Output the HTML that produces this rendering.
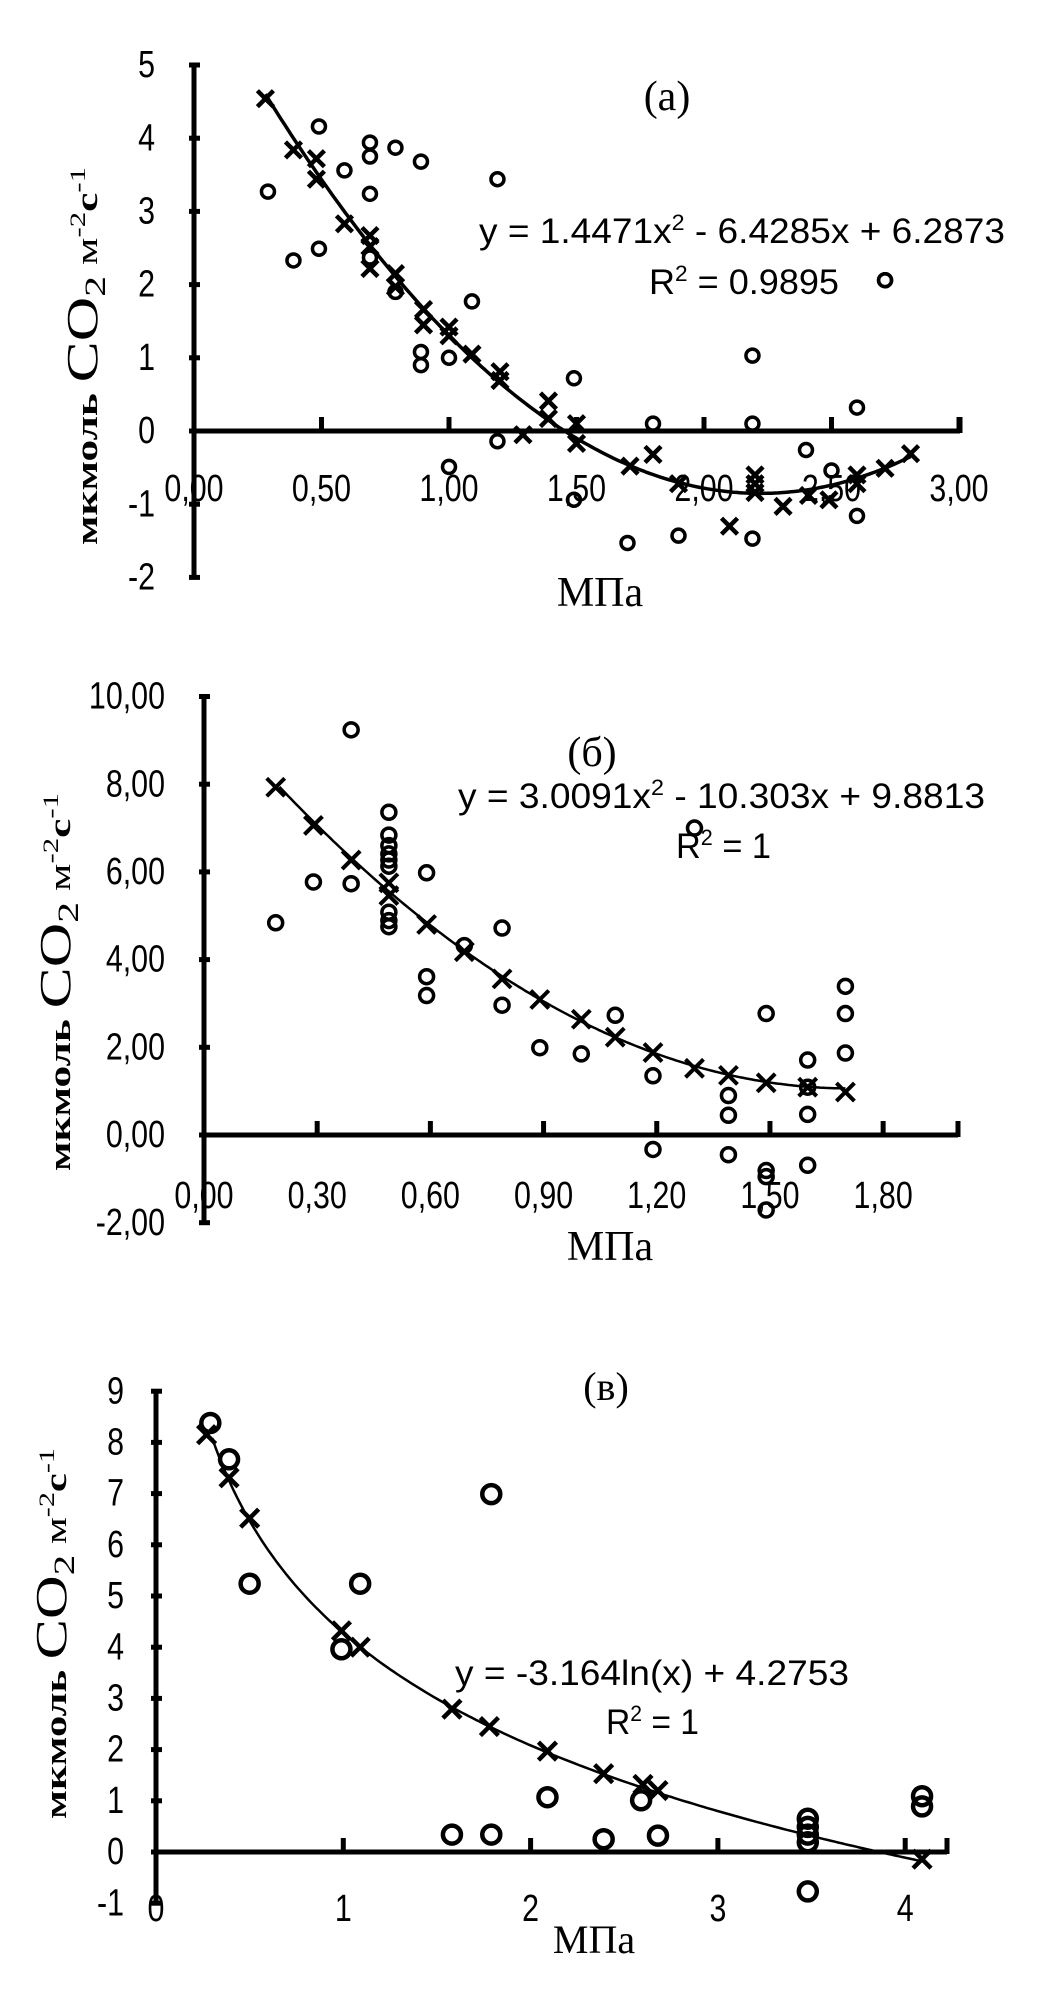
<!DOCTYPE html>
<html><head><meta charset="utf-8"><style>
html,body{margin:0;padding:0;background:#fff;}
svg{display:block}
.t{font-family:"Liberation Sans",sans-serif;fill:#000}
.s{font-family:"Liberation Serif",serif;fill:#000}
</style></head><body>
<svg id="g" width="1060" height="1999" viewBox="0 0 1060 1999" xmlns="http://www.w3.org/2000/svg">
<text class="s" x="667" y="110" font-size="42" text-anchor="middle">(a)</text>
<text class="t" x="479" y="243" font-size="35" textLength="526" lengthAdjust="spacingAndGlyphs">y = 1.4471x<tspan dy="-13" font-size="22">2</tspan><tspan dy="13"> - 6.4285x + 6.2873</tspan></text>
<text class="t" x="649" y="294" font-size="35" textLength="190" lengthAdjust="spacingAndGlyphs">R<tspan dy="-13" font-size="22">2</tspan><tspan dy="13"> = 0.9895</tspan></text>
<text class="s" x="600" y="606" font-size="42" text-anchor="middle">МПа</text>
<text class="s" transform="translate(97,545) rotate(-90)" font-size="31" font-weight="bold" textLength="378" lengthAdjust="spacingAndGlyphs">мкмоль <tspan font-size="44" font-weight="normal">CO</tspan><tspan font-size="30" font-weight="normal" dy="8">2</tspan><tspan dy="-8" font-weight="normal"> м</tspan><tspan dy="-12" font-size="22" font-weight="normal">-2</tspan><tspan dy="12">с</tspan><tspan dy="-12" font-size="22" font-weight="normal">-1</tspan></text>
<text class="s" x="592" y="766" font-size="42" text-anchor="middle">(б)</text>
<text class="t" x="458" y="808" font-size="35" textLength="527" lengthAdjust="spacingAndGlyphs">y = 3.0091x<tspan dy="-13" font-size="22">2</tspan><tspan dy="13"> - 10.303x + 9.8813</tspan></text>
<text class="t" x="676" y="858" font-size="35" textLength="95" lengthAdjust="spacingAndGlyphs">R<tspan dy="-13" font-size="22">2</tspan><tspan dy="13"> = 1</tspan></text>
<text class="s" x="610" y="1260" font-size="42" text-anchor="middle">МПа</text>
<text class="s" transform="translate(70,1171) rotate(-90)" font-size="31" font-weight="bold" textLength="378" lengthAdjust="spacingAndGlyphs">мкмоль <tspan font-size="44" font-weight="normal">CO</tspan><tspan font-size="30" font-weight="normal" dy="8">2</tspan><tspan dy="-8" font-weight="normal"> м</tspan><tspan dy="-12" font-size="22" font-weight="normal">-2</tspan><tspan dy="12">с</tspan><tspan dy="-12" font-size="22" font-weight="normal">-1</tspan></text>
<text class="s" x="606" y="1400" font-size="40" text-anchor="middle">(в)</text>
<text class="t" x="455" y="1685" font-size="35" textLength="394" lengthAdjust="spacingAndGlyphs">y = -3.164ln(x) + 4.2753</text>
<text class="t" x="606" y="1734" font-size="35" textLength="93" lengthAdjust="spacingAndGlyphs">R<tspan dy="-13" font-size="22">2</tspan><tspan dy="13"> = 1</tspan></text>
<text class="s" x="594" y="1953" font-size="40" text-anchor="middle">МПа</text>
<text class="s" transform="translate(66,1819) rotate(-90)" font-size="31" font-weight="bold" textLength="371" lengthAdjust="spacingAndGlyphs">мкмоль <tspan font-size="44" font-weight="normal">CO</tspan><tspan font-size="30" font-weight="normal" dy="8">2</tspan><tspan dy="-8" font-weight="normal"> м</tspan><tspan dy="-12" font-size="22" font-weight="normal">-2</tspan><tspan dy="12">с</tspan><tspan dy="-12" font-size="22" font-weight="normal">-1</tspan></text>
</svg>
<script>
var S=document.getElementById('g'),NS='http://www.w3.org/2000/svg';
function el(n,a){var e=document.createElementNS(NS,n);for(var k in a)e.setAttribute(k,a[k]);S.appendChild(e);return e;}
function txt(x,y,s,anc,fs){var e=el('text',{x:0,y:0,transform:'translate('+x+','+y+') scale(0.8,1)','font-size':fs||38,'text-anchor':anc,'class':'t','dominant-baseline':'central'});e.textContent=s;}
function chart(c){
 var X=function(u){return c.x0+(u-c.u0)*c.kx},Y=function(v){return c.y0-v*c.ky};
 var d='';for(var i=0;i<=200;i++){var u=c.c0+(c.c1-c.c0)*i/200;d+=(i?'L':'M')+X(u).toFixed(1)+' '+Y(c.f(u)).toFixed(1);}
 el('path',{d:d,fill:'none',stroke:'#000','stroke-width':c.cw});
 el('line',{x1:c.x0,y1:Y(c.ymax),x2:c.x0,y2:Y(c.ymin),stroke:'#000','stroke-width':c.aw});
 el('line',{x1:c.x0,y1:c.y0,x2:c.xend,y2:c.y0,stroke:'#000','stroke-width':c.aw});
 c.yt.forEach(function(v){el('line',{x1:c.x0-5,y1:Y(v),x2:c.x0+6,y2:Y(v),stroke:'#000','stroke-width':c.aw});txt(c.ylx,Y(v),c.yf(v),'end',c.fs);});
 c.xt.forEach(function(u){el('line',{x1:X(u),y1:c.y0-14,x2:X(u),y2:c.y0+2,stroke:'#000','stroke-width':c.aw});txt(X(u),c.xly,c.xf(u),'middle',c.fs);});
 el('line',{x1:c.xend,y1:c.y0-14,x2:c.xend,y2:c.y0+2,stroke:'#000','stroke-width':c.aw});
 c.circ.forEach(function(p){el('circle',{cx:X(p[0]),cy:Y(p[1]),r:c.r,fill:'none',stroke:'#000','stroke-width':c.sw});});
 c.cross.forEach(function(p){var x=X(p[0]),y=Y(p[1]),h=c.xs;el('path',{d:'M'+(x-h)+' '+(y-h)+'L'+(x+h)+' '+(y+h)+'M'+(x+h)+' '+(y-h)+'L'+(x-h)+' '+(y+h),stroke:'#000','stroke-width':c.xw,fill:'none'});});
}
chart({x0:194,u0:0,kx:255,y0:431,ky:73.2,ymax:5,ymin:-2,xend:960,aw:5,cw:3.5,r:6.5,sw:3.5,xs:8,xw:4.5,fs:38,ylx:155,xly:489,
 yt:[5,4,3,2,1,0,-1,-2],yf:function(v){return ''+v},xt:[0,0.5,1,1.5,2,2.5,3],xf:function(u){return u.toFixed(2).replace('.',',')},
 c0:0.28,c1:2.81,f:function(x){return 1.4471*x*x-6.4285*x+6.2873},
 cross:[[0.28,4.54],[0.39,3.84],[0.48,3.72],[0.48,3.44],[0.59,2.83],[0.69,2.67],[0.69,2.52],[0.69,2.22],[0.79,2.15],[0.79,1.97],[0.9,1.66],[0.9,1.45],[1,1.42],[1,1.3],[1.09,1.05],[1.2,0.81],[1.2,0.69],[1.29,-0.05],[1.39,0.41],[1.39,0.17],[1.5,0.1],[1.5,-0.17],[1.71,-0.48],[1.8,-0.32],[1.9,-0.72],[2.1,-1.3],[2.2,-0.6],[2.2,-0.72],[2.2,-0.84],[2.31,-1.03],[2.41,-0.88],[2.49,-0.94],[2.6,-0.6],[2.6,-0.72],[2.71,-0.51],[2.81,-0.31]],
 circ:[[0.29,3.27],[0.39,2.33],[0.49,4.16],[0.49,2.49],[0.59,3.56],[0.69,3.94],[0.69,3.75],[0.69,3.24],[0.69,2.37],[0.79,3.87],[0.79,1.9],[0.89,3.68],[0.89,1.08],[0.89,0.9],[1,1],[1,-0.49],[1.09,1.77],[1.19,3.44],[1.19,-0.14],[1.49,0.72],[1.49,-0.94],[1.7,-1.53],[1.8,0.1],[1.9,-1.43],[2.19,1.03],[2.19,0.1],[2.19,-1.47],[2.4,-0.26],[2.5,-0.54],[2.6,0.32],[2.6,-1.16],[2.71,2.06],[2.71,2.06]]});
chart({x0:204,u0:0,kx:377.3,y0:1135,ky:43.85,ymax:10,ymin:-2,xend:958,aw:5,cw:2.5,r:7,sw:3.5,xs:9,xw:4,fs:38,ylx:165,xly:1196,
 yt:[10,8,6,4,2,0,-2],yf:function(v){return v.toFixed(2).replace('.',',')},xt:[0,0.3,0.6,0.9,1.2,1.5,1.8],xf:function(u){return u.toFixed(2).replace('.',',')},
 c0:0.2,c1:1.7,f:function(x){return 3.0091*x*x-10.303*x+9.8813},
 cross:[[0.19,7.93],[0.29,7.06],[0.39,6.27],[0.49,5.75],[0.49,5.46],[0.59,4.8],[0.69,4.18],[0.79,3.56],[0.89,3.09],[1,2.64],[1.09,2.23],[1.19,1.88],[1.3,1.52],[1.39,1.36],[1.49,1.19],[1.6,1.09],[1.7,0.98]],
 circ:[[0.19,4.84],[0.29,5.77],[0.39,9.24],[0.39,5.73],[0.49,7.36],[0.49,6.84],[0.49,6.6],[0.49,6.41],[0.49,6.27],[0.49,6.13],[0.49,5.08],[0.49,4.89],[0.49,4.75],[0.59,5.98],[0.59,3.61],[0.59,3.18],[0.69,4.32],[0.79,4.72],[0.79,2.96],[0.89,1.99],[1,1.85],[1.09,2.73],[1.19,1.35],[1.19,-0.33],[1.3,7.0],[1.39,0.9],[1.39,0.45],[1.39,-0.45],[1.49,2.77],[1.49,-0.81],[1.49,-0.95],[1.49,-1.71],[1.6,1.71],[1.6,1.09],[1.6,0.47],[1.6,-0.69],[1.7,3.39],[1.7,2.77],[1.7,1.87]]});
chart({x0:156,u0:0,kx:187.3,y0:1852,ky:51.2,ymax:9,ymin:-1,xend:947,aw:5,cw:2.5,r:9,sw:4.5,xs:9,xw:4.5,fs:38,ylx:124,xly:1909,
 yt:[9,8,7,6,5,4,3,2,1,0,-1],yf:function(v){return ''+v},xt:[0,1,2,3,4],xf:function(u){return ''+u},
 c0:0.3,c1:4.1,f:function(x){return -3.164*Math.log(x)+4.2753},
 cross:[[0.27,8.15],[0.39,7.31],[0.5,6.52],[0.99,4.32],[1.09,4.0],[1.58,2.79],[1.78,2.45],[2.09,1.97],[2.39,1.53],[2.6,1.32],[2.68,1.2],[4.09,-0.14]],
 circ:[[0.29,8.38],[0.39,7.67],[0.5,5.24],[0.99,3.96],[1.09,5.24],[1.79,6.99],[1.58,0.34],[1.79,0.34],[2.09,1.07],[2.39,0.25],[2.59,1.01],[2.68,0.32],[3.48,0.65],[3.48,0.49],[3.48,0.34],[3.48,0.19],[3.48,-0.77],[4.09,1.09],[4.09,0.89]]});
</script>
</body></html>
